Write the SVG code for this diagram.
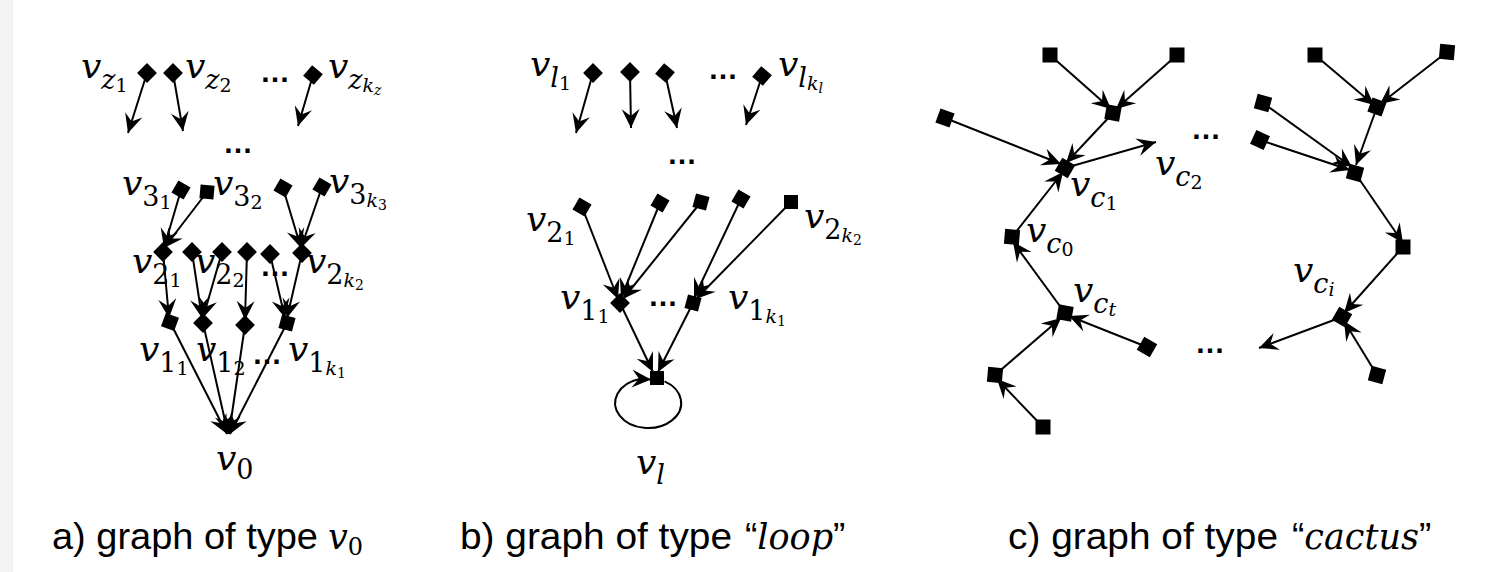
<svg xmlns="http://www.w3.org/2000/svg" width="1502" height="572" viewBox="0 0 1502 572">
<style>
.bg{fill:#ffffff}
.strip{fill:#f3f3f3}
.n{fill:#000}
.e{stroke:#000;stroke-width:2;fill:none;marker-end:url(#ah)}
.loop{stroke:#000;stroke-width:2;fill:none;marker-end:url(#ah)}
.m{font-family:"DejaVu Serif","Liberation Serif",serif;font-style:italic;font-size:36px;fill:#000}
.s{font-size:27px}
.ss{font-size:19px}
.sss{font-size:14px}
.d{font-style:normal}
.dots{font-family:"Liberation Sans",Arial,sans-serif;font-weight:bold;font-size:30px;fill:#000}
.cap{font-family:"Liberation Sans",Arial,sans-serif;font-size:37px;fill:#000}
.capm{font-family:"DejaVu Serif","Liberation Serif",serif;font-style:italic;font-size:35px;fill:#000}
</style>
<defs>
<marker id="ah" viewBox="-20 -10 21 20" refX="0" refY="0" markerWidth="21" markerHeight="20" markerUnits="userSpaceOnUse" orient="auto">
<path d="M0,0 L-19,-9 L-12,0 L-19,9 Z" fill="#000"/>
</marker>
<rect id="sq" x="-7" y="-7" width="14" height="14"/>
<rect id="sqc" x="-7.5" y="-7.5" width="15" height="15"/>
</defs>
<rect class="bg" x="0" y="0" width="1502" height="572"/>
<rect class="strip" x="0" y="0" width="13" height="572"/>

<!-- ===== Panel a ===== -->
<g id="a-nodes">
<g id="a_z1"><use href="#sq" class="n" transform="translate(147,73) rotate(45)"/><text class="m" x="81" y="78">v<tspan class="s" dy="11">z</tspan><tspan class="ss d" dy="3">1</tspan></text></g>
<g id="a_z2"><use href="#sq" class="n" transform="translate(173,73) rotate(45)"/><text class="m" x="185" y="78">v<tspan class="s" dy="11">z</tspan><tspan class="ss d" dy="3">2</tspan></text></g>
<g id="a_zk"><use href="#sq" class="n" transform="translate(313,75) rotate(40)"/><text class="m" x="328" y="78">v<tspan class="s" dy="11">z</tspan><tspan class="ss" dy="3">k</tspan><tspan class="sss" dy="3">z</tspan></text></g>
<g id="a_31"><use href="#sq" class="n" transform="translate(181,190) rotate(30)"/><text class="m" x="122" y="195">v<tspan class="s d" dy="11">3</tspan><tspan class="ss d" dy="3">1</tspan></text></g>
<g id="a_32"><use href="#sq" class="n" transform="translate(207,192) rotate(5)"/><text class="m" x="213" y="195">v<tspan class="s d" dy="11">3</tspan><tspan class="ss d" dy="3">2</tspan></text></g>
<g id="a_33"><use href="#sq" class="n" transform="translate(283,188) rotate(30)"/></g>
<g id="a_3k"><use href="#sq" class="n" transform="translate(322,187) rotate(30)"/><text class="m" x="329" y="193">v<tspan class="s d" dy="11">3</tspan><tspan class="ss" dy="3">k</tspan><tspan class="sss d" dy="3">3</tspan></text></g>
<g id="a_21"><use href="#sq" class="n" transform="translate(163,252) rotate(45)"/><text class="m" x="132" y="273">v<tspan class="s d" dy="11">2</tspan><tspan class="ss d" dy="3">1</tspan></text></g>
<g id="a_22a"><use href="#sq" class="n" transform="translate(192,252) rotate(45)"/><text class="m" x="195" y="273">v<tspan class="s d" dy="11">2</tspan><tspan class="ss d" dy="3">2</tspan></text></g>
<g id="a_22b"><use href="#sq" class="n" transform="translate(222,252) rotate(45)"/></g>
<g id="a_23"><use href="#sq" class="n" transform="translate(247,252) rotate(45)"/></g>
<g id="a_24"><use href="#sq" class="n" transform="translate(270,254) rotate(45)"/></g>
<g id="a_2k"><use href="#sq" class="n" transform="translate(302,253) rotate(45)"/><text class="m" x="306" y="273">v<tspan class="s d" dy="11">2</tspan><tspan class="ss" dy="3">k</tspan><tspan class="sss d" dy="3">2</tspan></text></g>
<g id="a_11"><use href="#sq" class="n" transform="translate(170,322) rotate(20)"/><text class="m" x="139" y="361">v<tspan class="s d" dy="11">1</tspan><tspan class="ss d" dy="3">1</tspan></text></g>
<g id="a_12"><use href="#sq" class="n" transform="translate(203,323) rotate(45)"/><text class="m" x="196" y="361">v<tspan class="s d" dy="11">1</tspan><tspan class="ss d" dy="3">2</tspan></text></g>
<g id="a_13"><use href="#sq" class="n" transform="translate(245,325) rotate(45)"/></g>
<g id="a_1k"><use href="#sq" class="n" transform="translate(287,323) rotate(15)"/><text class="m" x="288" y="361">v<tspan class="s d" dy="11">1</tspan><tspan class="ss" dy="3">k</tspan><tspan class="sss d" dy="3">1</tspan></text></g>
<g id="a_v0"><text class="m" x="216" y="470">v<tspan class="s d" dy="9">0</tspan></text></g>
</g>
<g id="a-dots">
<text class="dots" x="260" y="82">…</text>
<text class="dots" x="223" y="153">…</text>
<text class="dots" x="260" y="276">…</text>
<text class="dots" x="252" y="364">…</text>
</g>

<!-- ===== Panel b ===== -->
<g id="b-nodes">
<g id="b_l1"><use href="#sq" class="n" transform="translate(593,73) rotate(45)"/><text class="m" x="530" y="76">v<tspan class="s" dy="11">l</tspan><tspan class="ss d" dy="3">1</tspan></text></g>
<g id="b_l2"><use href="#sq" class="n" transform="translate(630,72) rotate(45)"/></g>
<g id="b_l3"><use href="#sq" class="n" transform="translate(665,73) rotate(40)"/></g>
<g id="b_lk"><use href="#sq" class="n" transform="translate(762,76) rotate(40)"/><text class="m" x="778" y="76">v<tspan class="s" dy="11">l</tspan><tspan class="ss" dy="3">k</tspan><tspan class="sss" dy="3">l</tspan></text></g>
<g id="b_21"><use href="#sq" class="n" transform="translate(582,207) rotate(30)"/><text class="m" x="526" y="231">v<tspan class="s d" dy="11">2</tspan><tspan class="ss d" dy="3">1</tspan></text></g>
<g id="b_22"><use href="#sq" class="n" transform="translate(660,203) rotate(30)"/></g>
<g id="b_23"><use href="#sq" class="n" transform="translate(701,202) rotate(15)"/></g>
<g id="b_24"><use href="#sq" class="n" transform="translate(741,199) rotate(30)"/></g>
<g id="b_2k"><use href="#sq" class="n" transform="translate(791,202) rotate(0)"/><text class="m" x="804" y="228">v<tspan class="s d" dy="11">2</tspan><tspan class="ss" dy="3">k</tspan><tspan class="sss d" dy="3">2</tspan></text></g>
<g id="b_11"><use href="#sq" class="n" transform="translate(620,303) rotate(45)"/><text class="m" x="560" y="309">v<tspan class="s d" dy="11">1</tspan><tspan class="ss d" dy="3">1</tspan></text></g>
<g id="b_1k"><use href="#sq" class="n" transform="translate(693,303) rotate(15)"/><text class="m" x="728" y="309">v<tspan class="s d" dy="11">1</tspan><tspan class="ss" dy="3">k</tspan><tspan class="sss d" dy="3">1</tspan></text></g>
<g id="b_vl"><use href="#sq" class="n" transform="translate(657,378)"/><text class="m" x="636" y="474">v<tspan class="s" dy="10">l</tspan></text></g>
</g>
<g id="b-dots">
<text class="dots" x="708" y="79">…</text>
<text class="dots" x="667" y="164">…</text>
<text class="dots" x="648" y="306">…</text>
</g>

<!-- ===== Panel c ===== -->
<g id="c-nodes">
<g id="c_t1"><use href="#sqc" class="n" transform="translate(1050,55)"/></g>
<g id="c_t2"><use href="#sqc" class="n" transform="translate(1177,55)"/></g>
<g id="c_m"><use href="#sqc" class="n" transform="translate(1113,113) rotate(10)"/></g>
<g id="c_l"><use href="#sqc" class="n" transform="translate(945,118) rotate(20)"/></g>
<g id="c_c1"><use href="#sqc" class="n" transform="translate(1065,168) rotate(30)"/><text class="m" x="1070" y="196">v<tspan class="s" dy="11">c</tspan><tspan class="ss d" dy="3">1</tspan></text></g>
<g id="c_c2"><text class="m" x="1155" y="175">v<tspan class="s" dy="11">c</tspan><tspan class="ss d" dy="3">2</tspan></text></g>
<g id="c_c0"><use href="#sqc" class="n" transform="translate(1012,237) rotate(5)"/><text class="m" x="1026" y="242">v<tspan class="s" dy="11">c</tspan><tspan class="ss d" dy="3">0</tspan></text></g>
<g id="c_ct"><use href="#sqc" class="n" transform="translate(1065,313) rotate(10)"/><text class="m" x="1073" y="302">v<tspan class="s" dy="11">c</tspan><tspan class="ss" dy="3">t</tspan></text></g>
<g id="c_r"><use href="#sqc" class="n" transform="translate(1147,347) rotate(30)"/></g>
<g id="c_b1"><use href="#sqc" class="n" transform="translate(995,375) rotate(5)"/></g>
<g id="c_b2"><use href="#sqc" class="n" transform="translate(1043,427)"/></g>
<g id="c_rt1"><use href="#sqc" class="n" transform="translate(1315,55)"/></g>
<g id="c_rt2"><use href="#sqc" class="n" transform="translate(1447,52) rotate(5)"/></g>
<g id="c_rm"><use href="#sqc" class="n" transform="translate(1377,107) rotate(20)"/></g>
<g id="c_rl1"><use href="#sqc" class="n" transform="translate(1263,103) rotate(15)"/></g>
<g id="c_rl2"><use href="#sqc" class="n" transform="translate(1260,140) rotate(25)"/></g>
<g id="c_rc"><use href="#sqc" class="n" transform="translate(1355,173) rotate(15)"/></g>
<g id="c_rr"><use href="#sqc" class="n" transform="translate(1403,247)"/></g>
<g id="c_ci"><use href="#sqc" class="n" transform="translate(1342,317) rotate(30)"/><text class="m" x="1293" y="282">v<tspan class="s" dy="11">c</tspan><tspan class="ss" dy="3">i</tspan></text></g>
<g id="c_rb"><use href="#sqc" class="n" transform="translate(1377,375) rotate(15)"/></g>
</g>
<g id="c-dots">
<text class="dots" x="1191" y="139">…</text>
<text class="dots" x="1195" y="353">…</text>
</g>

<!-- ===== Connectors ===== -->
<g id="connectors">
<line class="e" x1="147" y1="73" x2="128" y2="133"/>
<line class="e" x1="173" y1="73" x2="183" y2="131"/>
<line class="e" x1="313" y1="75" x2="298" y2="126"/>
<line class="e" x1="181" y1="190" x2="164" y2="248"/>
<line class="e" x1="207" y1="192" x2="164" y2="248"/>
<line class="e" x1="283" y1="188" x2="301" y2="248"/>
<line class="e" x1="322" y1="187" x2="301" y2="248"/>
<line class="e" x1="163" y1="252" x2="169" y2="318"/>
<line class="e" x1="192" y1="252" x2="202" y2="318"/>
<line class="e" x1="222" y1="252" x2="203" y2="318"/>
<line class="e" x1="247" y1="252" x2="245" y2="320"/>
<line class="e" x1="270" y1="254" x2="285" y2="318"/>
<line class="e" x1="302" y1="253" x2="287" y2="318"/>
<line class="e" x1="170" y1="322" x2="227" y2="434"/>
<line class="e" x1="203" y1="323" x2="228" y2="434"/>
<line class="e" x1="245" y1="325" x2="229" y2="434"/>
<line class="e" x1="287" y1="323" x2="230" y2="434"/>

<line class="e" x1="593" y1="73" x2="576" y2="133"/>
<line class="e" x1="630" y1="72" x2="631" y2="128"/>
<line class="e" x1="665" y1="73" x2="677" y2="128"/>
<line class="e" x1="762" y1="76" x2="746" y2="125"/>
<line class="e" x1="582" y1="207" x2="618" y2="299"/>
<line class="e" x1="660" y1="203" x2="621" y2="298"/>
<line class="e" x1="701" y1="202" x2="623" y2="299"/>
<line class="e" x1="741" y1="199" x2="694" y2="298"/>
<line class="e" x1="791" y1="202" x2="696" y2="299"/>
<line class="e" x1="620" y1="303" x2="653" y2="372"/>
<line class="e" x1="693" y1="303" x2="658" y2="372"/>
<path class="loop" d="M664.5,381.3 A33,25 0 1 1 639.5,378.9 L651,379.5"/>

<line class="e" x1="1050" y1="55" x2="1111" y2="109"/>
<line class="e" x1="1177" y1="55" x2="1116" y2="109"/>
<line class="e" x1="1113" y1="113" x2="1066" y2="163"/>
<line class="e" x1="945" y1="118" x2="1061" y2="164"/>
<line class="e" x1="1065" y1="168" x2="1156" y2="142"/>
<line class="e" x1="1012" y1="237" x2="1063" y2="172"/>
<line class="e" x1="1065" y1="313" x2="1013" y2="242"/>
<line class="e" x1="1147" y1="347" x2="1069" y2="316"/>
<line class="e" x1="995" y1="375" x2="1061" y2="318"/>
<line class="e" x1="1043" y1="427" x2="997" y2="379"/>
<line class="e" x1="1315" y1="55" x2="1374" y2="105"/>
<line class="e" x1="1447" y1="52" x2="1380" y2="104"/>
<line class="e" x1="1377" y1="107" x2="1356" y2="165"/>
<line class="e" x1="1263" y1="103" x2="1352" y2="167"/>
<line class="e" x1="1260" y1="140" x2="1350" y2="170"/>
<line class="e" x1="1355" y1="173" x2="1403" y2="243"/>
<line class="e" x1="1403" y1="247" x2="1344" y2="313"/>
<line class="e" x1="1342" y1="317" x2="1259" y2="348"/>
<line class="e" x1="1377" y1="375" x2="1344" y2="321"/>
</g>

<!-- ===== Captions ===== -->
<g id="captions">
<text class="cap" x="52" y="549" textLength="266" lengthAdjust="spacingAndGlyphs">a) graph of type</text>
<text class="capm" x="328" y="549">v<tspan class="d" font-size="24" dy="6">0</tspan></text>
<text class="cap" x="460" y="549" textLength="272" lengthAdjust="spacingAndGlyphs">b) graph of type</text>
<text class="cap" x="745" y="549">“<tspan class="capm">loop</tspan>”</text>
<text class="cap" x="1008" y="549" textLength="270" lengthAdjust="spacingAndGlyphs">c) graph of type</text>
<text class="cap" x="1292" y="549">“<tspan class="capm">cactus</tspan>”</text>
</g>
</svg>
